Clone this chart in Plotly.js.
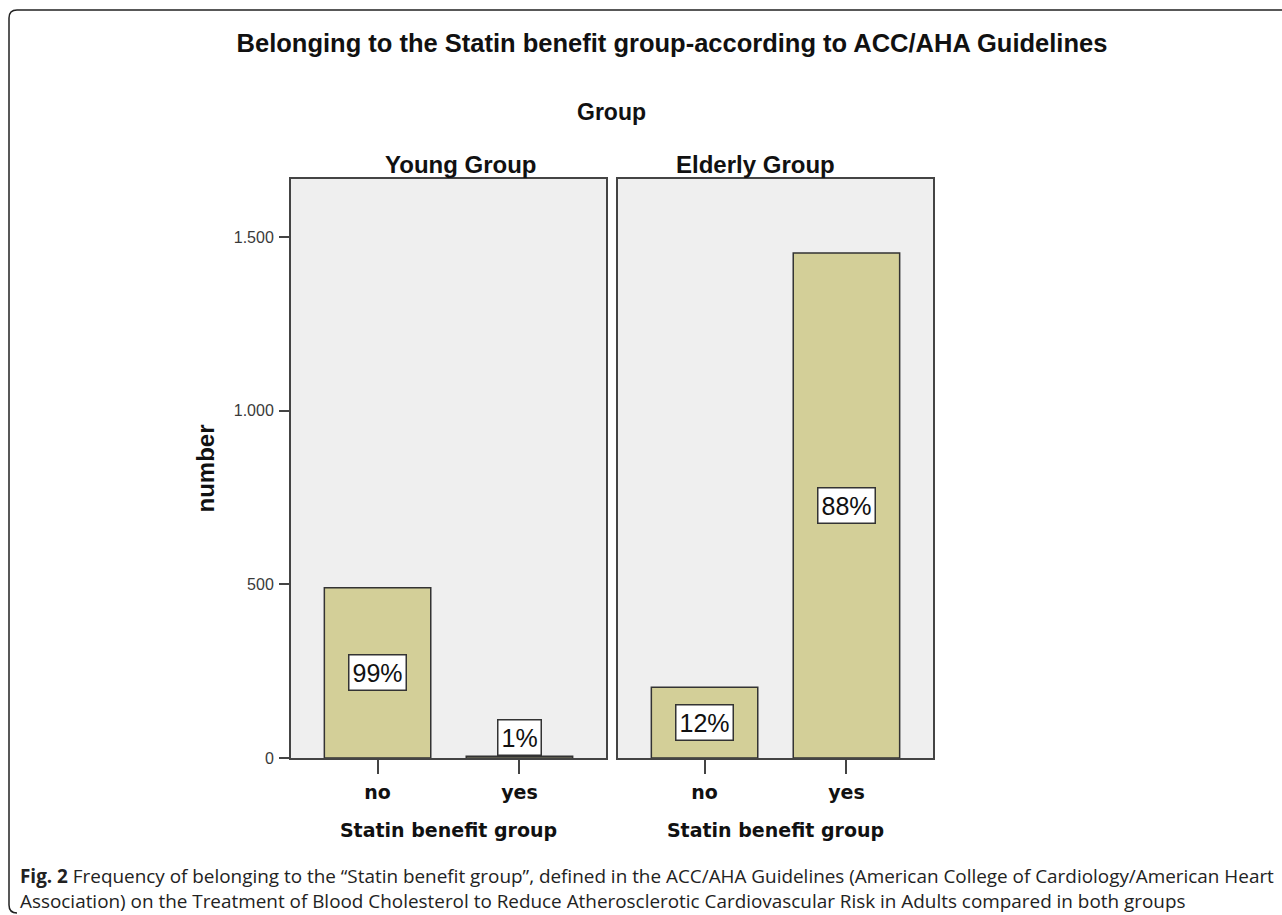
<!DOCTYPE html>
<html>
<head>
<meta charset="utf-8">
<script src="https://cdn.plot.ly/plotly-3.0.1.min.js"></script>
<style>
  html, body { margin: 0; padding: 0; background: #ffffff; }
  #chart { width: 1282px; height: 915px; }
</style>
</head>
<body>
<div id="chart"></div>
<script>
// ---- data ----
const categories = ['no', 'yes'];
const youngValues = [490, 5];
const elderlyValues = [204, 1454];
const youngPct = ['99%', '1%'];
const elderlyPct = ['12%', '88%'];
const panelNames = ['Young Group', 'Elderly Group'];
const yTickVals = [0, 500, 1000, 1500];
const yTickText = ['0', '500', '1.000', '1.500'];

// ---- layout helpers (page pixels -> paper fractions) ----
const W = 1282, H = 915;
const px = x => x / W;
const py = y => 1 - y / H;

const arial = 'Liberation Sans';
const verd = 'DejaVu Sans';
const barColor = '#d3cf98';
const frameColor = '#444444';

const traces = [
  {type: 'bar', x: categories, y: youngValues, xaxis: 'x', yaxis: 'y',
   width: 0.75, marker: {color: barColor, line: {color: '#333333', width: 1.5}},
   hoverinfo: 'x+y', showlegend: false},
  {type: 'bar', x: categories, y: elderlyValues, xaxis: 'x2', yaxis: 'y2',
   width: 0.75, marker: {color: barColor, line: {color: '#333333', width: 1.5}},
   hoverinfo: 'x+y', showlegend: false}
];

const yDomain = [py(758), py(179)];
const yRange = [0, 1667];
const xRange = [-0.61, 1.61];

function xAxis(domain) {
  return {
    domain: domain, range: xRange, type: 'category', fixedrange: true,
    showline: true, mirror: true, linecolor: frameColor, linewidth: 2,
    ticks: 'outside', ticklen: 14, tickwidth: 2, tickcolor: frameColor,
    tickfont: {family: verd, size: 19, color: '#111111', weight: 'bold'},
    ticklabelstandoff: 2,
    showgrid: false, zeroline: false,
    title: {text: 'Statin benefit group', standoff: 22,
            font: {family: verd, size: 19, color: '#111111', weight: 'bold'}}
  };
}

const annotations = [];
const hdrFont = {family: arial, size: 23, color: '#111111', weight: 'bold'};
const panelFont = {family: arial, size: 24, color: '#111111', weight: 'bold'};
// facet header
annotations.push({text: 'Group', xref: 'paper', yref: 'paper', x: px(611), y: py(112),
  xanchor: 'center', yanchor: 'middle', showarrow: false, font: hdrFont});
annotations.push({text: panelNames[0], xref: 'paper', yref: 'paper', x: px(461), y: py(164),
  xanchor: 'center', yanchor: 'middle', showarrow: false, font: panelFont});
annotations.push({text: panelNames[1], xref: 'paper', yref: 'paper', x: px(755), y: py(164),
  xanchor: 'center', yanchor: 'middle', showarrow: false, font: panelFont});

// percentage boxes
function addPct(vals, pcts, xr, yr) {
  vals.forEach((v, i) => {
    const small = v < 60;
    annotations.push({
      text: pcts[i], xref: xr, yref: yr, x: categories[i], y: small ? v : v / 2,
      yanchor: small ? 'bottom' : 'middle', showarrow: false,
      bgcolor: '#ffffff', bordercolor: '#333333', borderwidth: 1.5, borderpad: 3,
      font: {family: arial, size: 25, color: '#111111'}
    });
  });
}
addPct(youngValues, youngPct, 'x', 'y');
addPct(elderlyValues, elderlyPct, 'x2', 'y2');

// caption
annotations.push({
  text: '<b>Fig. 2</b> Frequency of belonging to the \u201cStatin benefit group\u201d, defined in the ACC/AHA Guidelines (American College of Cardiology/American Heart<br>Association) on the Treatment of Blood Cholesterol to Reduce Atherosclerotic Cardiovascular Risk in Adults compared in both groups',
  xref: 'paper', yref: 'paper', x: px(18), y: py(888), xanchor: 'left', yanchor: 'middle', align: 'left',
  showarrow: false, font: {family: 'Open Sans', size: 18.9, color: '#222222'}
});

const r = 8;
const framePath = 'M ' + px(1300) + ',' + py(10) +
  ' L ' + px(9 + r) + ',' + py(10) +
  ' Q ' + px(9) + ',' + py(10) + ' ' + px(9) + ',' + py(10 + r) +
  ' L ' + px(9) + ',' + py(905) +
  ' Q ' + px(9) + ',' + py(913) + ' ' + px(9 + r) + ',' + py(913);

const layout = {
  width: W, height: H,
  margin: {l: 0, r: 0, t: 0, b: 0},
  paper_bgcolor: '#ffffff', plot_bgcolor: '#efefef',
  showlegend: false, bargap: 0.25,
  title: {text: 'Belonging to the Statin benefit group-according to ACC/AHA Guidelines',
          x: px(672), y: py(43), xanchor: 'center', yanchor: 'middle',
          font: {family: arial, size: 25.5, color: '#111111', weight: 'bold'}},
  xaxis: xAxis([px(291), px(606)]),
  xaxis2: xAxis([px(618), px(933)]),
  yaxis: {domain: yDomain, range: yRange, fixedrange: true, anchor: 'x',
          showline: true, mirror: true, linecolor: frameColor, linewidth: 2,
          ticks: 'outside', ticklen: 10, tickwidth: 2, tickcolor: frameColor,
          tickvals: yTickVals, ticktext: yTickText,
          tickfont: {family: arial, size: 16, color: '#3a3a3a'},
          ticklabelstandoff: 2,
          showgrid: false, zeroline: false,
          title: {text: 'number', standoff: 12,
                  font: {family: arial, size: 24, color: '#111111', weight: 'bold'}}},
  yaxis2: {domain: yDomain, range: yRange, fixedrange: true, anchor: 'x2',
           showline: true, mirror: true, linecolor: frameColor, linewidth: 2,
           ticks: '', showticklabels: false, showgrid: false, zeroline: false},
  annotations: annotations,
  shapes: [{type: 'path', xref: 'paper', yref: 'paper', path: framePath,
            line: {color: '#222222', width: 1.5}}]
};

Plotly.newPlot('chart', traces, layout, {displayModeBar: false, staticPlot: true});
</script>
</body>
</html>
